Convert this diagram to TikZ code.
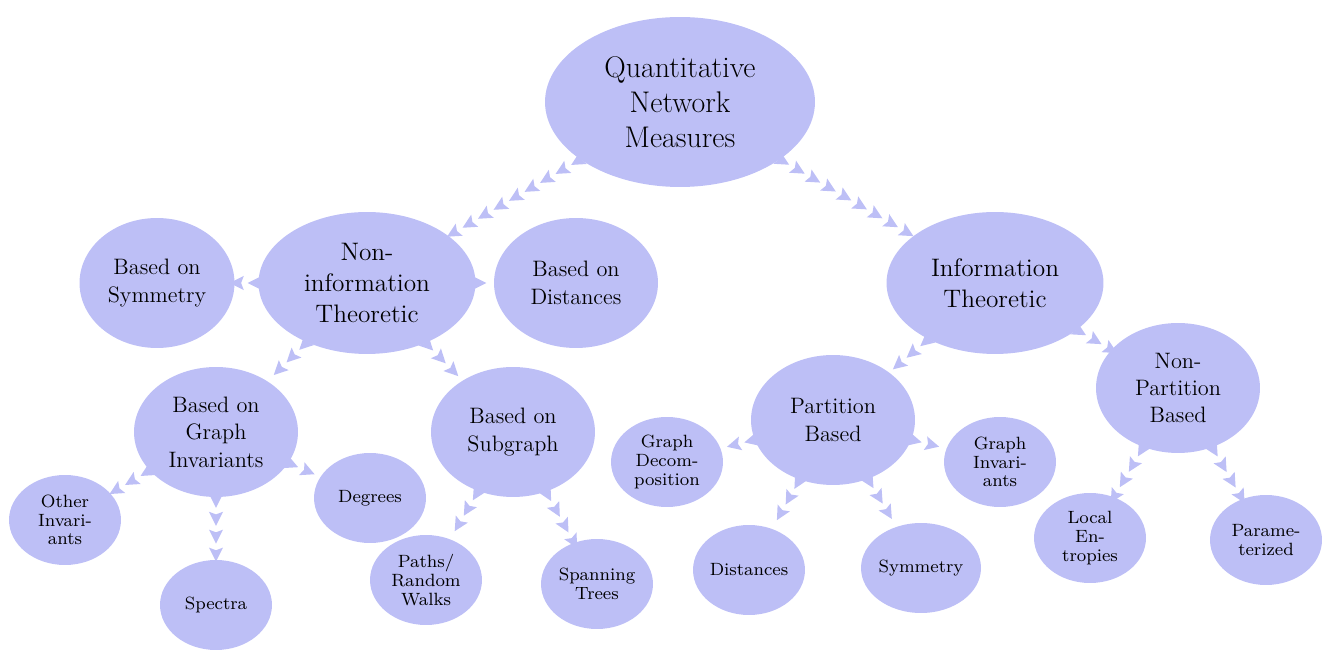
\documentclass[tikz,border=0pt]{standalone}
\usepackage{fontspec}
\newfontfamily\leaffont{lmroman8-regular.otf}
\usetikzlibrary{shapes.geometric,decorations.markings}
\definecolor{bubble}{RGB}{189,191,246}
\tikzset{
  concept/.style={ellipse,fill=bubble,inner sep=0pt,align=center},
  rootconcept/.style={concept,minimum width=5.4cm,minimum height=3.4cm,font=\fontsize{17}{20}\selectfont},
  branch/.style={concept,minimum width=4.34cm,minimum height=2.84cm,font=\fontsize{14.4}{17.5}\selectfont},
  subbranch/.style={concept,minimum width=3.28cm,minimum height=2.6cm,font=\fontsize{12.7}{15.6}\selectfont},
  leaf/.style={concept,minimum width=2.24cm,minimum height=1.8cm,font=\leaffont\fontsize{10.1}{10.6}\selectfont},
  arrowchain/.style={decoration={markings,
      mark=between positions 2pt and 1 step 10.2pt with
      {\fill[bubble] (-4pt,-4pt) -- (4pt,0pt) -- (-4pt,4pt) -- (-2.5pt,0pt) -- cycle;}},
    postaction={decorate}}
}
\begin{document}
\begin{tikzpicture}[x=0.02cm,y=-0.02cm]
  \useasboundingbox (0,0) rectangle (1322,651);
  \node[rootconcept] (qnm) at (680,102) {Quantitative\\Network\\Measures};
  \node[branch] (noninfo) at (367,283) {Non-\\information\\Theoretic};
  \node[branch] (info) at (995,283) {Information\\Theoretic};
  \node[subbranch,minimum width=3.1cm] (symm) at (157,283) {Based on\\Symmetry};
  \node[subbranch] (dist) at (576,283) {Based on\\Distances};
  \node[subbranch] (ginv) at (216,432) {Based on\\Graph\\Invariants};
  \node[subbranch] (subg) at (513,432) {Based on\\Subgraph};
  \node[subbranch] (part) at (833,420) {Partition\\Based};
  \node[subbranch] (nonpart) at (1178,388) {Non-\\Partition\\Based};
  \node[leaf] (othinv) at (65,520) {Other\\Invari-\\ants};
  \node[leaf] (spec) at (216,605) {Spectra};
  \node[leaf] (deg) at (370,498) {Degrees};
  \node[leaf] (paths) at (426,580) {Paths/\\Random\\Walks};
  \node[leaf] (span) at (597,584) {Spanning\\Trees};
  \node[leaf] (gdec) at (667,462) {Graph\\Decom-\\position};
  \node[leaf] (ginvleaf) at (1000,462) {Graph\\Invari-\\ants};
  \node[leaf] (pdist) at (749,570) {Distances};
  \node[leaf] (psymm) at (921,568) {Symmetry};
  \node[leaf] (local) at (1090,538) {Local\\En-\\tropies};
  \node[leaf] (param) at (1266,540) {Parame-\\terized};
  \foreach \from/\to in {qnm/noninfo,qnm/info,noninfo/symm,noninfo/dist,
      noninfo/ginv,noninfo/subg,info/part,info/nonpart,ginv/othinv,ginv/spec,
      ginv/deg,subg/paths,subg/span,part/gdec,part/ginvleaf,part/pdist,
      part/psymm,nonpart/local,nonpart/param}
    \path[arrowchain] (\from) -- (\to);
\end{tikzpicture}
\end{document}
